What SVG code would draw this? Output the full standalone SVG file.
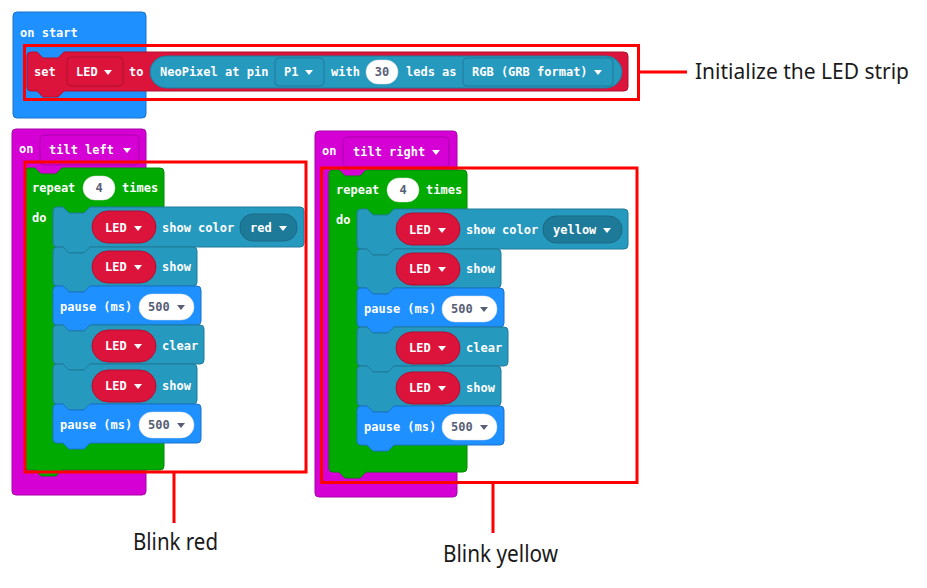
<svg xmlns="http://www.w3.org/2000/svg" width="927" height="588" viewBox="0 0 927 588">
<style>
.t{font-family:"DejaVu Sans Mono","Liberation Mono",monospace;font-size:12px;font-weight:bold;fill:#fff}
.n{font-family:"DejaVu Sans Mono","Liberation Mono",monospace;font-size:12px;font-weight:bold;fill:#575E75}
.lbl{font-family:"Noto Sans","Open Sans",sans-serif;fill:#1a1a1a}
.hatB{fill:#1E90FF;stroke:#1873CC;stroke-width:1}
.hatM{fill:#D400D4;stroke:#AA00AA;stroke-width:1}
.loop{fill:#00AA00;stroke:#008800;stroke-width:1}
.teal{fill:#2699BF;stroke:#1E7A99;stroke-width:1}
.blue{fill:#1E90FF;stroke:#1873CC;stroke-width:1}
.crim{fill:#DC143C;stroke:#B0102F;stroke-width:1}
.dteal{fill:#1E7A99;stroke:#1A6A85;stroke-width:1}
.wpill{fill:#fff;stroke:#DDDDDD;stroke-width:0.5}
.wa{fill:#fff}
.da{fill:#575E75}
.box{fill:none;stroke:#FF0000;stroke-width:3}
.con{stroke:#FF0000;stroke-width:3;fill:none}
</style>
<defs>
<polygon id="arr" points="-4,-2 4,-2 0,3"/>
</defs>
<rect width="927" height="588" fill="#fff"/>

<g id="node-onstart">
<rect class="hatB" x="13" y="12" width="133" height="106" rx="4"/>
<text class="t" x="20" y="37">on start</text>
<path class="crim" transform="translate(27,52)" d="M0,4 q0,-4 4,-4 h6 l6,6 h15 l6,-6 h560 q4,0 4,4 v31 q0,4 -4,4 h-560 l-6,6 h-15 l-6,-6 h-6 q-4,0 -4,-4 z"/>
<text class="t" x="34" y="76">set</text>
<rect class="crim" x="67" y="57" width="56" height="29" rx="4"/>
<text class="t" x="76" y="76">LED</text>
<use href="#arr" class="wa" x="108" y="72"/>
<text class="t" x="129" y="76">to</text>
<rect class="teal" x="150" y="56" width="472" height="32" rx="16"/>
<text class="t" x="160" y="76">NeoPixel at pin</text>
<rect class="teal" x="275" y="58" width="49" height="28" rx="4"/>
<text class="t" x="284" y="76">P1</text>
<use href="#arr" class="wa" x="309" y="72"/>
<text class="t" x="331" y="76">with</text>
<rect class="wpill" x="366" y="60" width="32" height="24" rx="12"/>
<text class="n" x="382" y="76" text-anchor="middle">30</text>
<text class="t" x="406" y="76">leds as</text>
<rect class="teal" x="463" y="58" width="150" height="28" rx="4"/>
<text class="t" x="472" y="76">RGB (GRB format)</text>
<use href="#arr" class="wa" x="598" y="72"/>
</g>

<g id="node-tiltleft">
<rect class="hatM" x="12" y="129" width="134" height="366" rx="4"/>
<text class="t" x="19" y="153">on</text>
<rect class="hatM" x="40" y="135" width="99" height="30" rx="4"/>
<text class="t" x="49" y="154">tilt left</text>
<use href="#arr" class="wa" x="127" y="150"/>
<path class="loop" transform="translate(25,168)" d="M0,4 q0,-4 4,-4 h6 l6,6 h15 l6,-6 h98 q4,0 4,4 v294 q0,4 -4,4 h-98 l-6,6 h-15 l-6,-6 h-6 q-4,0 -4,-4 z"/>
<text class="t" x="32" y="192">repeat</text>
<rect class="wpill" x="83" y="176" width="32" height="24" rx="12"/>
<text class="n" x="99" y="192" text-anchor="middle">4</text>
<text class="t" x="122" y="192">times</text>
<text class="t" x="32" y="222">do</text>

<path class="teal" transform="translate(53,207)" d="M0,4 q0,-4 4,-4 h6 l6,6 h15 l6,-6 h210 q4,0 4,4 v32 q0,4 -4,4 h-210 l-6,6 h-15 l-6,-6 h-6 q-4,0 -4,-4 z"/>
<rect class="crim" x="92" y="211" width="64" height="32" rx="16"/>
<text class="t" x="105" y="232">LED</text>
<use href="#arr" class="wa" x="138" y="228"/>
<text class="t" x="162" y="232">show color</text>
<rect class="dteal" x="240" y="214" width="57" height="27" rx="13"/>
<text class="t" x="250" y="232">red</text>
<use href="#arr" class="wa" x="283" y="228"/>

<path class="teal" transform="translate(53,247)" d="M0,4 q0,-4 4,-4 h6 l6,6 h15 l6,-6 h103 q4,0 4,4 v31 q0,4 -4,4 h-103 l-6,6 h-15 l-6,-6 h-6 q-4,0 -4,-4 z"/>
<rect class="crim" x="92" y="251" width="64" height="32" rx="16"/>
<text class="t" x="105" y="271">LED</text>
<use href="#arr" class="wa" x="138" y="267"/>
<text class="t" x="162" y="271">show</text>

<path class="blue" transform="translate(53,286)" d="M0,4 q0,-4 4,-4 h6 l6,6 h15 l6,-6 h107 q4,0 4,4 v31 q0,4 -4,4 h-107 l-6,6 h-15 l-6,-6 h-6 q-4,0 -4,-4 z"/>
<text class="t" x="60" y="311">pause (ms)</text>
<rect class="wpill" x="139" y="294" width="55" height="26" rx="13"/>
<text class="n" x="148" y="311">500</text>
<use href="#arr" class="da" x="181" y="307"/>

<path class="teal" transform="translate(53,325)" d="M0,4 q0,-4 4,-4 h6 l6,6 h15 l6,-6 h110 q4,0 4,4 v31 q0,4 -4,4 h-110 l-6,6 h-15 l-6,-6 h-6 q-4,0 -4,-4 z"/>
<rect class="crim" x="92" y="330" width="64" height="32" rx="16"/>
<text class="t" x="105" y="350">LED</text>
<use href="#arr" class="wa" x="138" y="346"/>
<text class="t" x="162" y="350">clear</text>

<path class="teal" transform="translate(53,364)" d="M0,4 q0,-4 4,-4 h6 l6,6 h15 l6,-6 h103 q4,0 4,4 v32 q0,4 -4,4 h-103 l-6,6 h-15 l-6,-6 h-6 q-4,0 -4,-4 z"/>
<rect class="crim" x="92" y="370" width="64" height="32" rx="16"/>
<text class="t" x="105" y="390">LED</text>
<use href="#arr" class="wa" x="138" y="386"/>
<text class="t" x="162" y="390">show</text>

<path class="blue" transform="translate(53,404)" d="M0,4 q0,-4 4,-4 h6 l6,6 h15 l6,-6 h107 q4,0 4,4 v31 q0,4 -4,4 h-107 l-6,6 h-15 l-6,-6 h-6 q-4,0 -4,-4 z"/>
<text class="t" x="60" y="429">pause (ms)</text>
<rect class="wpill" x="139" y="412" width="55" height="26" rx="13"/>
<text class="n" x="148" y="429">500</text>
<use href="#arr" class="da" x="181" y="425"/>
</g>

<g id="node-tiltright" transform="translate(304,2)">
<rect class="hatM" x="11" y="129" width="142" height="366" rx="4"/>
<text class="t" x="18" y="153">on</text>
<rect class="hatM" x="39" y="135" width="106" height="30" rx="4"/>
<text class="t" x="49" y="154">tilt right</text>
<use href="#arr" class="wa" x="132" y="150"/>
<path class="loop" transform="translate(25,168)" d="M0,4 q0,-4 4,-4 h6 l6,6 h15 l6,-6 h97 q4,0 4,4 v294 q0,4 -4,4 h-97 l-6,6 h-15 l-6,-6 h-6 q-4,0 -4,-4 z"/>
<text class="t" x="32" y="192">repeat</text>
<rect class="wpill" x="83" y="176" width="32" height="24" rx="12"/>
<text class="n" x="99" y="192" text-anchor="middle">4</text>
<text class="t" x="122" y="192">times</text>
<text class="t" x="32" y="222">do</text>

<path class="teal" transform="translate(53,207)" d="M0,4 q0,-4 4,-4 h6 l6,6 h15 l6,-6 h230 q4,0 4,4 v32 q0,4 -4,4 h-230 l-6,6 h-15 l-6,-6 h-6 q-4,0 -4,-4 z"/>
<rect class="crim" x="92" y="211" width="64" height="32" rx="16"/>
<text class="t" x="105" y="232">LED</text>
<use href="#arr" class="wa" x="138" y="228"/>
<text class="t" x="162" y="232">show color</text>
<rect class="dteal" x="239" y="214" width="79" height="27" rx="13"/>
<text class="t" x="249" y="232">yellow</text>
<use href="#arr" class="wa" x="303" y="228"/>

<path class="teal" transform="translate(53,247)" d="M0,4 q0,-4 4,-4 h6 l6,6 h15 l6,-6 h103 q4,0 4,4 v31 q0,4 -4,4 h-103 l-6,6 h-15 l-6,-6 h-6 q-4,0 -4,-4 z"/>
<rect class="crim" x="92" y="251" width="64" height="32" rx="16"/>
<text class="t" x="105" y="271">LED</text>
<use href="#arr" class="wa" x="138" y="267"/>
<text class="t" x="162" y="271">show</text>

<path class="blue" transform="translate(53,286)" d="M0,4 q0,-4 4,-4 h6 l6,6 h15 l6,-6 h106 q4,0 4,4 v31 q0,4 -4,4 h-106 l-6,6 h-15 l-6,-6 h-6 q-4,0 -4,-4 z"/>
<text class="t" x="60" y="311">pause (ms)</text>
<rect class="wpill" x="138" y="294" width="55" height="26" rx="13"/>
<text class="n" x="147" y="311">500</text>
<use href="#arr" class="da" x="180" y="307"/>

<path class="teal" transform="translate(53,325)" d="M0,4 q0,-4 4,-4 h6 l6,6 h15 l6,-6 h110 q4,0 4,4 v31 q0,4 -4,4 h-110 l-6,6 h-15 l-6,-6 h-6 q-4,0 -4,-4 z"/>
<rect class="crim" x="92" y="330" width="64" height="32" rx="16"/>
<text class="t" x="105" y="350">LED</text>
<use href="#arr" class="wa" x="138" y="346"/>
<text class="t" x="162" y="350">clear</text>

<path class="teal" transform="translate(53,364)" d="M0,4 q0,-4 4,-4 h6 l6,6 h15 l6,-6 h103 q4,0 4,4 v32 q0,4 -4,4 h-103 l-6,6 h-15 l-6,-6 h-6 q-4,0 -4,-4 z"/>
<rect class="crim" x="92" y="370" width="64" height="32" rx="16"/>
<text class="t" x="105" y="390">LED</text>
<use href="#arr" class="wa" x="138" y="386"/>
<text class="t" x="162" y="390">show</text>

<path class="blue" transform="translate(53,404)" d="M0,4 q0,-4 4,-4 h6 l6,6 h15 l6,-6 h106 q4,0 4,4 v31 q0,4 -4,4 h-106 l-6,6 h-15 l-6,-6 h-6 q-4,0 -4,-4 z"/>
<text class="t" x="60" y="429">pause (ms)</text>
<rect class="wpill" x="138" y="412" width="55" height="26" rx="13"/>
<text class="n" x="147" y="429">500</text>
<use href="#arr" class="da" x="180" y="425"/>
</g>

<g id="annotation-boxes">
<rect class="box" x="24.5" y="45.5" width="614" height="54"/>
<rect class="box" x="25" y="162" width="281" height="310"/>
<rect class="box" x="321.5" y="168" width="315.5" height="314.5"/>
</g>

<g id="connectors">
<line class="con" x1="639" y1="72" x2="687" y2="72"/>
<line class="con" x1="174" y1="472" x2="174" y2="523"/>
<line class="con" x1="493" y1="483" x2="493" y2="533"/>
</g>

<g id="label-init"><text class="lbl" x="695" y="79" font-size="22" textLength="214" lengthAdjust="spacingAndGlyphs">Initialize the LED strip</text></g>
<g id="label-blinkred"><text class="lbl" x="133" y="550" font-size="23" textLength="85" lengthAdjust="spacingAndGlyphs">Blink red</text></g>
<g id="label-blinkyellow"><text class="lbl" x="443" y="562" font-size="23" textLength="115" lengthAdjust="spacingAndGlyphs">Blink yellow</text></g>
</svg>
